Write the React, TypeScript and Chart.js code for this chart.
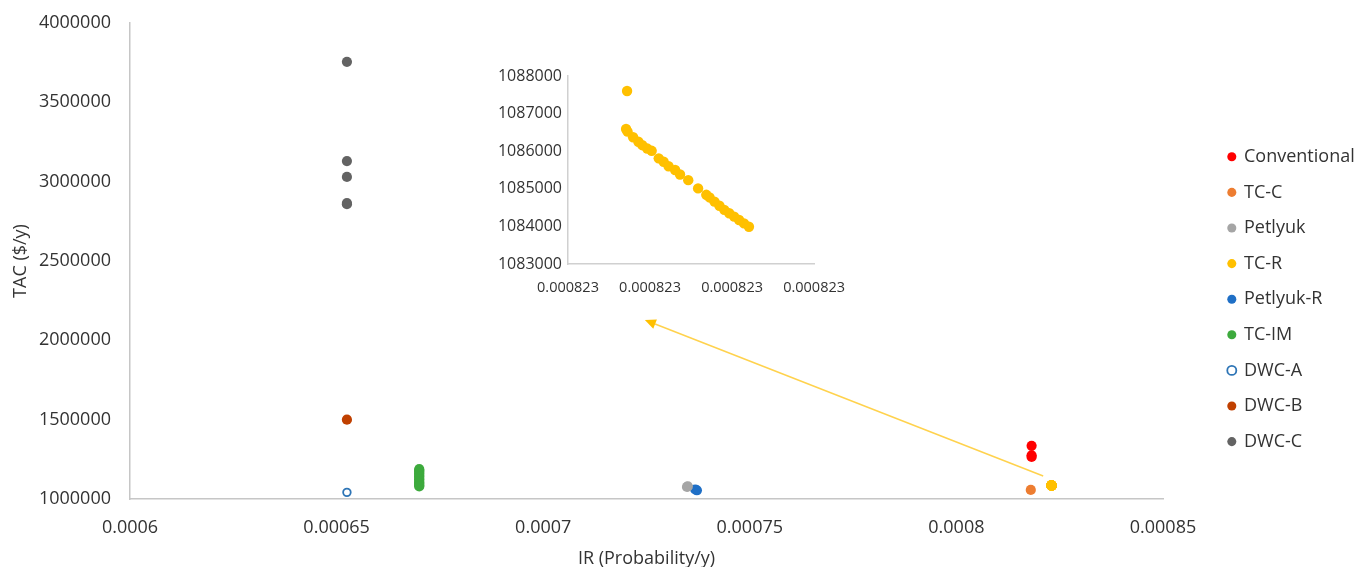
import React, { useEffect, useRef } from 'react';
import { Chart, registerables } from 'chart.js';

Chart.register(...registerables);

// ---------- data ----------
const seriesNames = ['Conventional', 'TC-C', 'Petlyuk', 'TC-R', 'Petlyuk-R', 'TC-IM', 'DWC-A', 'DWC-B', 'DWC-C'];

const conventionalIR = [0.0008182, 0.0008182, 0.0008182];
const conventionalTAC = [1335000, 1275000, 1265000];

const tccIR = [0.000818];
const tccTAC = [1057000];

const petlyukIR = [0.0007348, 0.000735];
const petlyukTAC = [1076000, 1079000];

const tcrIR = [
  0.000822986, 0.0008229854, 0.0008229863, 0.0008229897, 0.0008229929, 0.0008229953, 0.0008229983,
  0.000823001, 0.0008230053, 0.0008230083, 0.0008230113, 0.0008230153, 0.0008230183, 0.0008230233,
  0.0008230293, 0.0008230343, 0.0008230363, 0.0008230393, 0.0008230423, 0.0008230453, 0.0008230483,
  0.0008230513, 0.0008230543, 0.0008230573, 0.0008230603,
];
const tcrTAC = [
  1087600, 1086590, 1086520, 1086370, 1086250, 1086160, 1086070,
  1086010, 1085810, 1085720, 1085600, 1085500, 1085380, 1085230,
  1085010, 1084840, 1084770, 1084660, 1084550, 1084440, 1084350,
  1084260, 1084170, 1084080, 1083990,
];

const petlyukRIR = [0.0007368, 0.0007372];
const petlyukRTAC = [1060000, 1055000];

const tcimIR = [0.00067, 0.00067, 0.00067, 0.00067, 0.00067, 0.00067, 0.00067, 0.00067, 0.00067, 0.00067, 0.00067, 0.00067, 0.00067];
const tcimTAC = [1188000, 1180000, 1171000, 1163000, 1152000, 1144000, 1133000, 1124000, 1113000, 1104000, 1096000, 1087000, 1079000];

const dwcaIR = [0.0006525];
const dwcaTAC = [1042000];

const dwcbIR = [0.0006525];
const dwcbTAC = [1500000];

const dwccIR = [0.0006525, 0.0006525, 0.0006525, 0.0006525, 0.0006525];
const dwccTAC = [3755000, 3130000, 3030000, 2865000, 2858000];

const xTicks = [0.0006, 0.00065, 0.0007, 0.00075, 0.0008, 0.00085];
const yTicks = [1000000, 1500000, 2000000, 2500000, 3000000, 3500000, 4000000];

const insetXTicks = [0.00082295, 0.000823, 0.00082305, 0.0008231];
const insetYTicks = [1083000, 1084000, 1085000, 1086000, 1087000, 1088000];

// arrow annotation (data coordinates): from near TC-R point to the inset
const arrowFrom = [0.000821, 1145000];
const arrowTo = [0.0007246, 2128000];

// ---------- styles ----------
const FONT = "'Open Sans', sans-serif";
const TEXT = '#333333';
const AXIS = '#C6C6C6';
const colors = ['#FF0000', '#ED7D31', '#A5A5A5', '#FFC000', '#1F6FC6', '#3DAA3D', '#2E75B6', '#C04000', '#636363'];

const pts = (xs: number[], ys: number[]) => xs.map((x, i) => ({ x, y: ys[i] }));

const arrowPlugin = {
  id: 'arrowAnno',
  afterDatasetsDraw(chart: any) {
    const { ctx, scales } = chart;
    const x1 = scales.x.getPixelForValue(arrowFrom[0]);
    const y1 = scales.y.getPixelForValue(arrowFrom[1]);
    const x2 = scales.x.getPixelForValue(arrowTo[0]);
    const y2 = scales.y.getPixelForValue(arrowTo[1]);
    const ang = Math.atan2(y2 - y1, x2 - x1);
    const headLen = 11;
    const headW = 5;
    const bx = x2 - headLen * Math.cos(ang);
    const by = y2 - headLen * Math.sin(ang);
    ctx.save();
    ctx.strokeStyle = '#FFD24D';
    ctx.lineWidth = 1.5;
    ctx.beginPath();
    ctx.moveTo(x1, y1);
    ctx.lineTo(bx, by);
    ctx.stroke();
    ctx.fillStyle = '#FFC000';
    ctx.beginPath();
    ctx.moveTo(x2, y2);
    ctx.lineTo(bx + headW * Math.sin(ang), by - headW * Math.cos(ang));
    ctx.lineTo(bx - headW * Math.sin(ang), by + headW * Math.cos(ang));
    ctx.closePath();
    ctx.fill();
    ctx.restore();
  },
};

export default function App() {
  const mainRef = useRef<HTMLCanvasElement>(null);
  const insetRef = useRef<HTMLCanvasElement>(null);

  useEffect(() => {
    const seriesData = [
      pts(conventionalIR, conventionalTAC),
      pts(tccIR, tccTAC),
      pts(petlyukIR, petlyukTAC),
      pts(tcrIR, tcrTAC),
      pts(petlyukRIR, petlyukRTAC),
      pts(tcimIR, tcimTAC),
      pts(dwcaIR, dwcaTAC),
      pts(dwcbIR, dwcbTAC),
      pts(dwccIR, dwccTAC),
    ];
    const datasets = seriesNames.map((name, i) => {
      const hollow = name === 'DWC-A';
      return {
        label: name,
        data: seriesData[i],
        pointStyle: 'circle',
        pointRadius: hollow ? 3.8 : 5.1,
        pointHoverRadius: hollow ? 3.8 : 5.1,
        pointBackgroundColor: hollow ? '#FFFFFF' : colors[i],
        pointBorderColor: colors[i],
        pointBorderWidth: hollow ? 1.8 : 0,
        backgroundColor: hollow ? '#FFFFFF' : colors[i],
        borderColor: colors[i],
        borderWidth: hollow ? 1.8 : 0,
        showLine: false,
      };
    });

    const main = new Chart(mainRef.current as HTMLCanvasElement, {
      type: 'scatter',
      data: { datasets: datasets as any },
      options: {
        responsive: false,
        animation: false,
        events: [],
        layout: { padding: { top: 23, left: 0, right: 0, bottom: 0 } },
        plugins: {
          tooltip: { enabled: false },
          legend: {
            position: 'right',
            align: 'center',
            maxWidth: 146,
            title: { display: true, text: ' ', font: { size: 2 }, padding: { top: 3, bottom: 3 } },
            labels: {
              usePointStyle: true,
              boxWidth: 6.4,
              boxHeight: 6.4,
              padding: 17.6,
              color: TEXT,
              font: { size: 18, family: FONT },
            },
          },
        },
        scales: {
          x: {
            type: 'linear',
            min: 0.0006,
            max: 0.00085,
            afterBuildTicks: (s: any) => { s.ticks = xTicks.map((v) => ({ value: v })); },
            afterFit: (s: any) => { s.height = 68; },
            grid: { display: false, drawTicks: false },
            border: { display: true, color: AXIS, width: 1.5 },
            ticks: {
              padding: 18,
              color: TEXT,
              font: { size: 18, family: FONT },
              maxRotation: 0,
              autoSkip: false,
              callback: (v: any) => String(v),
            },
            title: {
              display: true,
              text: 'IR (Probability/y)',
              color: TEXT,
              font: { size: 18, family: FONT },
              padding: { top: 0, bottom: -3 },
            },
          },
          y: {
            type: 'linear',
            min: 1000000,
            max: 4000000,
            afterBuildTicks: (s: any) => { s.ticks = yTicks.map((v) => ({ value: v })); },
            afterFit: (s: any) => { s.width = 130; s.paddingTop = 0; s.paddingBottom = 0; },
            grid: { display: false, drawTicks: false },
            border: { display: true, color: AXIS, width: 1.5 },
            ticks: {
              padding: 19,
              color: TEXT,
              font: { size: 18, family: FONT },
              autoSkip: false,
              callback: (v: any) => String(v),
            },
            title: {
              display: true,
              text: 'TAC ($/y)',
              color: TEXT,
              font: { size: 18, family: FONT },
              padding: { top: 10, bottom: 0 },
            },
          },
          gap: {
            type: 'linear',
            position: 'right',
            display: true,
            grid: { display: false, drawTicks: false },
            border: { display: false },
            ticks: { display: false },
            afterFit: (s: any) => { s.width = 48; s.paddingTop = 0; s.paddingBottom = 0; },
          },
        } as any,
      },
      plugins: [arrowPlugin],
    });

    const inset = new Chart(insetRef.current as HTMLCanvasElement, {
      type: 'scatter',
      data: {
        datasets: [
          {
            label: 'TC-R',
            data: pts(tcrIR, tcrTAC),
            pointStyle: 'circle',
            pointRadius: 5.2,
            pointHoverRadius: 5.2,
            pointBackgroundColor: colors[3],
            pointBorderWidth: 0,
            showLine: false,
          } as any,
        ],
      },
      options: {
        responsive: false,
        animation: false,
        events: [],
        layout: { padding: { top: 16, right: 42, left: 0, bottom: 0 } },
        plugins: { legend: { display: false }, tooltip: { enabled: false } },
        scales: {
          x: {
            type: 'linear',
            min: insetXTicks[0],
            max: insetXTicks[insetXTicks.length - 1],
            afterBuildTicks: (s: any) => { s.ticks = insetXTicks.map((v) => ({ value: v })); },
            afterFit: (s: any) => { s.height = 46; },
            grid: { display: false, drawTicks: false },
            border: { display: true, color: '#D0D0D0', width: 1.5 },
            ticks: {
              padding: 15,
              color: TEXT,
              font: { size: 14.5, family: FONT },
              maxRotation: 0,
              autoSkip: false,
              callback: (v: any) => Number(v).toFixed(6),
            },
          },
          y: {
            type: 'linear',
            min: insetYTicks[0],
            max: insetYTicks[insetYTicks.length - 1],
            afterBuildTicks: (s: any) => { s.ticks = insetYTicks.map((v) => ({ value: v })); },
            afterFit: (s: any) => { s.width = 88; },
            grid: { display: false, drawTicks: false },
            border: { display: true, color: '#D0D0D0', width: 1.5 },
            ticks: {
              padding: 6,
              color: TEXT,
              font: { size: 16, family: FONT },
              autoSkip: false,
              callback: (v: any) => String(v),
            },
          },
        },
      },
    });

    return () => {
      main.destroy();
      inset.destroy();
    };
  }, []);

  return (
    <div style={{ position: 'fixed', left: 0, top: 0, width: 1357, height: 567, background: '#FFFFFF' }}>
      <canvas ref={mainRef} width={1357} height={567} style={{ position: 'absolute', left: 0, top: 0 }} />
      <canvas ref={insetRef} width={380} height={250} style={{ position: 'absolute', left: 480, top: 60 }} />
    </div>
  );
}
